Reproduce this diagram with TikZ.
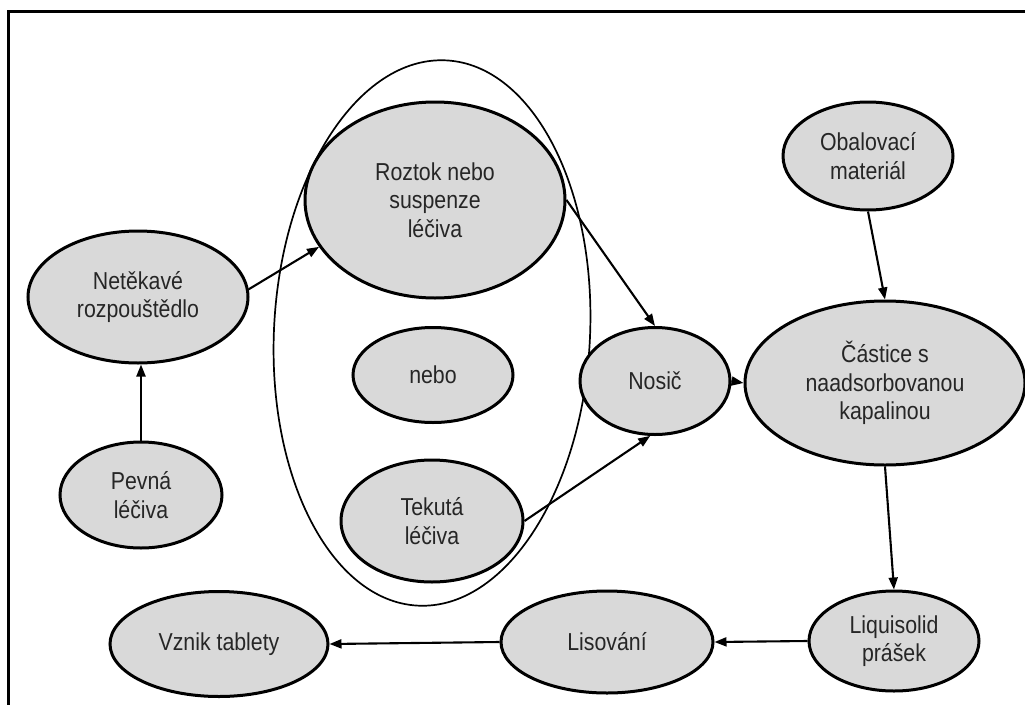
\documentclass[tikz,border=0pt]{standalone}
\usepackage{fontspec}
\setmainfont{Liberation Sans}[FakeStretch=0.87]
\usetikzlibrary{shapes.geometric,arrows.meta}
\definecolor{nodefill}{HTML}{D9D9D9}
\definecolor{txt}{HTML}{262626}
\tikzset{
  bub/.style={ellipse, draw=black, line width=3pt, fill=nodefill, inner sep=0pt,
    align=center, text=txt, font=\fontsize{24.5}{28.5}\selectfont},
  arr/.style={line width=2.1pt, -{Triangle[length=12pt,width=9pt]}},
  grpline/.style={ellipse, draw=black, line width=1.7pt, inner sep=0pt}
}
\begin{document}
\begin{tikzpicture}[x=1pt,y=-1pt]
\useasboundingbox (0,0) rectangle (1025,704);
\clip (0,0) rectangle (1025,704);
\fill[white] (0,0) rectangle (1025,704);
\draw[line width=3pt] (8,800) -- (8,11) -- (1100,11);

\node[grpline, minimum width=316pt, minimum height=546pt, rotate=-3] (grp) at (432,333) {};

\node[bub, minimum width=220pt, minimum height=132pt] (net) at (138,297) {Netěkavé\\rozpouštědlo};
\node[bub, minimum width=162pt, minimum height=106pt] (pev) at (141,495) {Pevná\\léčiva};
\node[bub, minimum width=260pt, minimum height=196pt] (roz) at (435,200) {Roztok nebo\\suspenze\\léčiva};
\node[bub, minimum width=160pt, minimum height=95pt] (neb) at (433,375) {nebo};
\node[bub, minimum width=182pt, minimum height=122pt] (tek) at (432,521) {Tekutá\\léčiva};
\node[bub, minimum width=150pt, minimum height=107pt] (nos) at (655,381) {Nosič};
\node[bub, minimum width=170pt, minimum height=108pt] (obal) at (868,156) {Obalovací\\materiál};
\node[bub, minimum width=280pt, minimum height=164pt] (cas) at (885,383) {Částice s\\naadsorbovanou\\kapalinou};
\node[bub, minimum width=170pt, minimum height=100pt] (liq) at (894,641) {Liquisolid\\prášek};
\node[bub, minimum width=212pt, minimum height=102pt] (lis) at (607,642) {Lisování};
\node[bub, minimum width=218pt, minimum height=105pt] (vzn) at (219,644) {Vznik tablety};

\draw[arr] (pev.north) -- (pev.north |- net.south);
\draw[arr] (net.4) -- (roz.202);
\draw[arr] (roz.east) -- (nos.north);
\draw[arr] (tek.east) -- (nos.265);
\draw[arr] (nos.east) -- (cas.west);
\draw[arr] (obal.south) -- (cas.north);
\draw[arr] (cas.south) -- (liq.north);
\draw[arr] (liq.west) -- (lis.east);
\draw[arr] (lis.west) -- (vzn.east);
\end{tikzpicture}
\end{document}
